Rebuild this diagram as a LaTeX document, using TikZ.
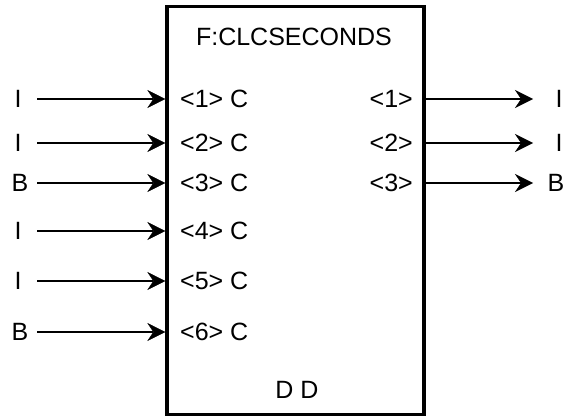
\documentclass[tikz,border=0pt]{standalone}
\usepackage{fontspec}
\setmainfont{Liberation Sans}
\usetikzlibrary{arrows.meta}
\begin{document}
\begin{tikzpicture}[x=1pt,y=-1pt,
  lbl/.style={font=\fontsize{25}{29}\selectfont, inner sep=0pt},
  blk/.style={draw, line width=3.4pt, minimum width=257pt, minimum height=408pt, inner sep=0pt},
  conn/.style={line width=2pt, -{Stealth[length=18pt,width=18pt,inset=6pt,line width=0.5pt]}}]
\useasboundingbox (0,0) rectangle (567,417);
\node[blk] (box) at (295.5,210.5) {};
\node[lbl] (title) at (294,37) {F:CLCSECONDS};
\node[lbl] (dd) at (297,390) {D D};
% inputs
\foreach \i/\y/\t/\x in {1/99/I/18,2/143/I/18,3/183/B/20,4/231/I/18,5/281/I/18,6/332/B/20}{
  \node[lbl] (in\i) at (\x,\y) {\t};
  \coordinate (ia\i) at (37,\y);
  \node[lbl, anchor=west] (ip\i) at (180,\y) {<\i> C};
  \draw[conn] (ia\i) -- (ia\i -| box.west);
}
% outputs
\foreach \i/\y/\t/\x in {1/99/I/559,2/143/I/559,3/183/B/556}{
  \node[lbl, anchor=east] (op\i) at (413,\y) {<\i>};
  \node[lbl] (out\i) at (\x,\y) {\t};
  \coordinate (ob\i) at (533,\y);
  \draw[conn] (ob\i -| box.east) -- (ob\i);
}
\end{tikzpicture}
\end{document}
